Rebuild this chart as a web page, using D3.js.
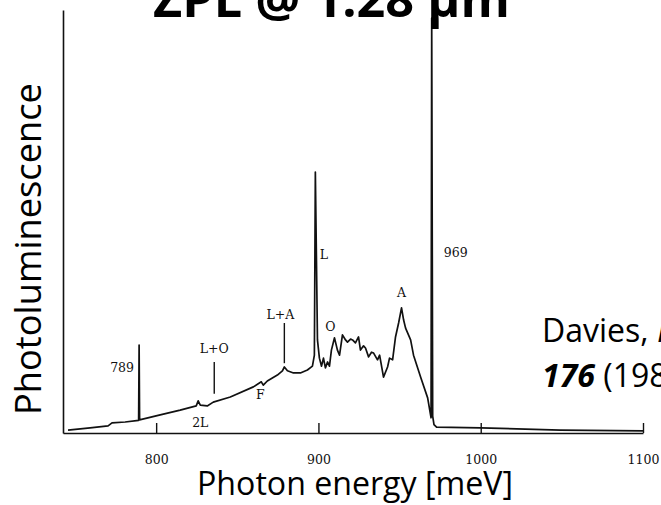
<!DOCTYPE html>
<html>
<head>
<meta charset="utf-8">
<script src="https://cdn.jsdelivr.net/npm/d3@7"></script>
<style>
  html, body { margin: 0; padding: 0; background: #fff; overflow: hidden; }
  svg { display: block; }
</style>
</head>
<body>
<svg id="chart" width="661" height="505"></svg>
<script>
// Photoluminescence spectrum, photon energy (meV) vs intensity (arb. units)
const energy = [745.7, 759.3, 770.4, 772.8, 780.9, 789.2, 789.5, 789.8, 802.5, 814.8, 824.7, 825.9, 827.2,
  831.5, 835.2, 845.7, 859.9, 864.8, 866.0, 868.5, 874.7, 877.8, 879.0, 880.9, 884.6, 888.9, 893.2,
  896.3, 897.5, 898.1, 899.4, 900.6, 901.9, 903.1, 904.3, 905.6, 906.8, 908.0, 909.9, 911.7, 913.0,
  914.8, 916.7, 917.9, 919.8, 921.0, 922.8, 924.7, 925.9, 927.8, 929.0, 930.9, 932.7, 934.0, 936.4,
  937.7, 940.1, 942.6, 943.8, 945.7, 947.5, 949.4, 951.2, 952.5, 953.7, 956.8, 958.6, 963.0, 967.3,
  969.4, 969.8, 970.4, 971.2, 972.8, 1000.0, 1049.0, 1100.0];
const intensity = [0.7, 1.2, 1.7, 2.4, 2.6, 3.0, 20.8, 3.1, 4.3, 5.4, 6.4, 7.6, 6.6,
  6.4, 7.3, 8.5, 10.9, 12.1, 11.3, 12.3, 13.7, 14.7, 15.6, 14.7, 14.2, 14.2, 14.9,
  15.8, 18.4, 61.7, 22.0, 17.7, 15.8, 17.7, 15.4, 16.8, 15.8, 19.6, 22.5, 19.6, 18.4,
  23.2, 22.0, 21.5, 22.2, 22.0, 21.3, 22.7, 19.6, 20.6, 20.1, 18.0, 19.1, 18.9, 17.3,
  18.4, 13.2, 15.6, 17.7, 17.3, 22.7, 26.0, 29.6, 26.7, 24.8, 22.0, 18.4, 13.2, 8.3,
  3.6, 98.1, 4.0, 2.0, 1.4, 1.2, 0.7, 0.5];

// Tick values on the energy axis
const tickValues = [800, 900, 1000, 1100];

// Feature labels (energy, intensity at label centre)
const labelText = ["789", "L+O", "L+A", "2L", "F", "L", "O", "A", "969"];
const labelEnergy = [779.0, 835.8, 876.5, 827.2, 864.2, 903.3, 907.4, 951.2, 984.6];
const labelIntensity = [15.6, 19.9, 28.1, 2.4, 9.0, 42.1, 25.1, 33.3, 42.6];

// Pointer strokes under the combination-band labels
const pointerEnergy = [835.8, 879.0];
const pointerLow = [9.3, 16.5];
const pointerHigh = [16.8, 26.0];

const svg = d3.select("#chart");
svg.append("rect").attr("width", 661).attr("height", 505).attr("fill", "#fff");

const x = d3.scaleLinear().domain([742.6, 1100]).range([63, 643]);
const y = d3.scaleLinear().domain([0, 100]).range([433, 10]);

const ink = "#111";
const serif = "'DejaVu Serif', 'Liberation Serif', serif";
const sans = "'Open Sans', 'Noto Sans', sans-serif";

// Bottom axis: inward ticks, labels well below
const xAxis = svg.append("g")
  .attr("transform", `translate(0,${y(0)})`)
  .call(d3.axisBottom(x).tickValues(tickValues).tickFormat(d3.format("d"))
    .tickSizeInner(-10).tickSizeOuter(0).tickPadding(22));
xAxis.select(".domain").attr("stroke", ink).attr("stroke-width", 1.7);
xAxis.selectAll(".tick line").attr("stroke", ink).attr("stroke-width", 1.4);
xAxis.selectAll(".tick text").attr("fill", ink)
  .style("font-family", serif).style("font-size", "12.5px");

// Left axis: bare line
const yAxis = svg.append("g")
  .attr("transform", `translate(${x(742.6)},0)`)
  .call(d3.axisLeft(y).tickValues([]).tickSizeOuter(0));
yAxis.select(".domain").attr("stroke", ink).attr("stroke-width", 1.6);

// Spectrum trace
const pts = energy.map((e, i) => [e, intensity[i]]);
svg.append("path")
  .datum(pts)
  .attr("fill", "none")
  .attr("stroke", ink)
  .attr("stroke-width", 1.7)
  .attr("stroke-linejoin", "round")
  .attr("d", d3.line().x(d => x(d[0])).y(d => y(d[1])));

// Pointer strokes
svg.selectAll(".pointer")
  .data(pointerEnergy)
  .join("line")
  .attr("class", "pointer")
  .attr("x1", d => x(d)).attr("x2", d => x(d))
  .attr("y1", (d, i) => y(pointerLow[i])).attr("y2", (d, i) => y(pointerHigh[i]))
  .attr("stroke", ink).attr("stroke-width", 1.4);

// Feature labels
svg.selectAll(".feat")
  .data(labelText)
  .join("text")
  .attr("class", "feat")
  .attr("x", (d, i) => x(labelEnergy[i]))
  .attr("y", (d, i) => y(labelIntensity[i]))
  .attr("text-anchor", "middle")
  .attr("dominant-baseline", "central")
  .attr("fill", ink)
  .style("font-family", serif)
  .style("font-size", "12.5px")
  .text(d => d);

// Size a text element so it spans the given width
function fitWidth(sel, w) {
  const n = sel.node();
  const size = parseFloat(sel.style("font-size"));
  const len = n.getComputedTextLength();
  sel.style("font-size", (size * w / len) + "px");
}

// Title (runs off the top edge)
const title = svg.append("text")
  .attr("x", 153).attr("y", 17)
  .style("font-family", sans).style("font-weight", "700").style("font-size", "50px")
  .attr("fill", "#000")
  .text("ZPL @ 1.28 µm");
fitWidth(title, 357);

// Axis titles
const xTitle = svg.append("text")
  .attr("x", 355).attr("y", 495)
  .attr("text-anchor", "middle")
  .style("font-family", sans).style("font-size", "30px")
  .attr("fill", "#000")
  .text("Photon energy [meV]");
fitWidth(xTitle, 316);

const yTitle = svg.append("text")
  .attr("transform", "translate(41,249) rotate(-90)")
  .attr("text-anchor", "middle")
  .style("font-family", sans).style("font-size", "30px")
  .attr("fill", "#000")
  .text("Photoluminescence");
fitWidth(yTitle, 332);

// Reference note
const ref = svg.append("text")
  .style("font-family", sans).style("font-size", "32px")
  .attr("fill", "#000");
ref.append("tspan").attr("x", 542).attr("y", 342).text("Davies, ");
ref.append("tspan").style("font-style", "italic").text("Phys. Rep.");
ref.append("tspan").attr("x", 542).attr("y", 387)
  .style("font-weight", "700").style("font-style", "italic").text("176");
ref.append("tspan").text(" (1989)");
</script>
</body>
</html>
